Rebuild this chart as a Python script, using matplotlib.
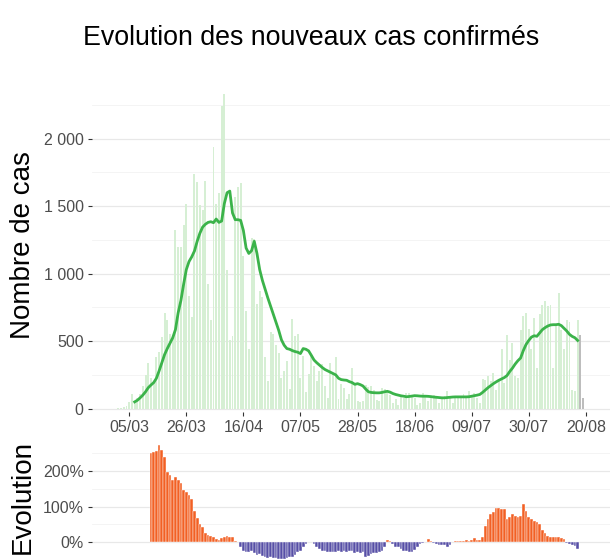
import pandas as pd
import matplotlib
matplotlib.use("Agg")
import matplotlib.pyplot as plt
import matplotlib.dates as mdates
from matplotlib.ticker import FuncFormatter, MultipleLocator

plt.rcParams["font.family"] = ["Liberation Sans", "DejaVu Sans"]

# nouveaux cas par jour, a partir du 01/03/2020
debut_cas = "2020-03-01"
cas_confirmes = [
    2, 6, 13, 23,
    50, 109, 57, 82, 105, 170, 250, 335, 230, 205,
    385, 420, 530, 705, 655, 550, 520, 1325, 1195, 1200,
    1360, 1515, 835, 680, 1735, 1680, 1510, 1475, 1690, 920,
    660, 1935, 1515, 1595, 2240, 2335, 1025, 505, 540, 1565,
    1640, 1675, 1130, 725, 440, 1265, 1255, 775, 870, 825,
    380, 205, 565, 550, 475, 415, 230, 280, 355, 145,
    665, 540, 550, 230, 390, 120, 255, 405, 315, 205,
    280, 330, 170, 80, 340, 255, 380, 70, 180, 155,
    70, 105, 300, 190, 60, 50, 55, 178, 160, 170,
    140, 67, 55, 153, 146, 116, 104, 42, 72, 25,
    92, 80, 116, 116, 92, 80, 25, 42, 116, 104,
    55, 92, 104, 92, 42, 80, 92, 128, 92, 42,
    80, 92, 92, 111, 92, 128, 92, 116, 79, 42,
    220, 210, 245, 203, 264, 141, 215, 440, 190, 548,
    363, 490, 240, 230, 585, 685, 710, 590, 440, 670,
    300, 700, 770, 795, 760, 770, 300, 620, 860, 585,
    440, 660, 645, 140, 128, 660,
]
# derniers jours, donnees incompletes
debut_provisoire = "2020-08-18"
cas_provisoires = [548, 80]

# moyenne glissante 7 jours, a partir du 07/03
debut_moyenne = "2020-03-07"
moyenne_7j = [
    50, 62, 80, 100, 125, 155, 175, 193, 225, 280,
    340, 400, 445, 485, 525, 585, 710, 800, 920, 1030,
    1090, 1125, 1168, 1240, 1300, 1345, 1366, 1380, 1385, 1378,
    1405, 1380, 1390, 1520, 1600, 1612, 1450, 1400, 1400, 1395,
    1320, 1190, 1150, 1170, 1240, 1150, 1030, 950, 885, 820,
    760, 700, 640, 580, 510, 470, 445, 440, 430, 423,
    418, 408, 445, 440, 428, 395, 360, 340, 322, 305,
    290, 280, 270, 260, 250, 225, 215, 212, 210, 200,
    193, 180, 185, 178, 168, 145, 125, 120, 118, 117,
    117, 120, 125, 128, 122, 112, 105, 100, 95, 92,
    88, 90, 93, 96, 95, 93, 92, 92, 91, 89,
    86, 84, 82, 80, 80, 82, 84, 86, 87, 87,
    87, 87, 87, 88, 92, 96, 100, 105, 120, 138,
    155, 170, 185, 198, 210, 220, 230, 245, 275, 300,
    330, 355, 375, 430, 475, 505, 530, 540, 536, 560,
    585, 600, 612, 620, 622, 622, 625, 615, 595, 575,
    550, 535, 525, 505,
]

# evolution (%) a partir du 13/03
debut_evolution = "2020-03-13"
evolution = [
    250, 252, 257, 273, 259, 240, 198, 189, 175, 182,
    175, 167, 147, 142, 133, 121, 89, 67, 51, 42,
    25, 21, 18, 14, 8, 7, 11, 16, 18, 16, 14, 3, 2,
    -14, -23, -28, -28, -23, -31, -35, -33, -37, -42,
    -44, -42, -44, -44, -47, -47, -47, -44, -42, -40,
    -35, -28, -23, -14, -5, 0, 0, -5, -14, -19,
    -23, -25, -28, -28, -26, -28, -25, -28, -23, -28, -23,
    -25, -30, -28, -31, -28, -42, -37, -33, -31, -31,
    -28, -23, -14, 7, 5, -5, -12, -14, -19, -23,
    -25, -28, -28, -22, -12, -5, -2, 0, 9, 5,
    -3, -5, -7, -7, -7, -12, -7, 0, 5, 5,
    3, 5, 7, 5, 7,
    12, 7, 7, 14, 47, 66, 78, 84, 96, 96,
    94, 94, 66, 72, 78, 75, 72, 75, 106, 89,
    72, 66, 61, 56, 51, 35, 25, 19, 16, 16,
    14, 14, 12, 9, -3, -5, -7, -10, -19,
]

tick_dates = ["2020-03-05", "2020-03-26", "2020-04-16", "2020-05-07", "2020-05-28",
              "2020-06-18", "2020-07-09", "2020-07-30", "2020-08-20"]

jours_cas = pd.date_range(debut_cas, periods=len(cas_confirmes))
jours_prov = pd.date_range(debut_provisoire, periods=len(cas_provisoires))
jours_moy = pd.date_range(debut_moyenne, periods=len(moyenne_7j))
jours_evo = pd.date_range(debut_evolution, periods=len(evolution))
couleurs_evo = ["#f26024" if v >= 0 else "#574fa6" for v in evolution]

W, H = 611, 560
fig = plt.figure(figsize=(W / 100, H / 100), dpi=100)
ax1 = fig.add_axes([92 / W, 1 - 412 / H, 518 / W, 334 / H])
ax2 = fig.add_axes([92 / W, 0, 518 / W, 119 / H])

ref = mdates.date2num(pd.Timestamp("2020-03-05"))
xlim = (ref - 13.7, ref + 176.9)

ax1.bar(jours_cas, cas_confirmes, width=0.72, color="#d6efd4", zorder=2)
ax1.bar(jours_prov, cas_provisoires, width=0.72, color="#bdbdbd", zorder=2)
ax1.plot(jours_moy, moyenne_7j, color="#3bb34a", lw=2.0, zorder=3)
ax1.set_xlim(xlim)
ax1.set_ylim(-25, 2450)
ax1.yaxis.set_major_locator(MultipleLocator(500))
ax1.yaxis.set_minor_locator(MultipleLocator(250))
ax1.yaxis.set_major_formatter(FuncFormatter(lambda v, p: f"{int(v):,}".replace(",", " ")))
ax1.set_xticks(mdates.date2num(pd.to_datetime(tick_dates)))
ax1.xaxis.set_major_formatter(mdates.DateFormatter("%d/%m"))
ax1.set_ylabel("Nombre de cas", fontsize=20, color="black")
ax1.yaxis.set_label_coords(-0.108, 0.5)

ax2.bar(jours_evo, evolution, width=1.0, color=couleurs_evo, edgecolor="white",
        linewidth=0.3, zorder=2)
ax2.set_xlim(xlim)
ax2.set_ylim(-49.6, 283.8)
ax2.set_yticks([0, 100, 200])
ax2.yaxis.set_minor_locator(MultipleLocator(50))
ax2.yaxis.set_major_formatter(FuncFormatter(lambda v, p: f"{int(v)}%"))
ax2.set_xticks([])
ax2.set_ylabel("Evolution", fontsize=20, color="black")
ax2.yaxis.set_label_coords(-0.108, 0.53)

for ax in (ax1, ax2):
    for s in ax.spines.values():
        s.set_visible(False)
    ax.grid(axis="y", which="major", color="#e8e8e8", lw=0.9, zorder=0)
    ax.grid(axis="y", which="minor", color="#f3f3f3", lw=0.6, zorder=0)
    ax.grid(axis="x", visible=False)
    ax.tick_params(axis="both", which="major", colors="#333333", length=3, width=0.8,
                   labelcolor="#4d4d4d", labelsize=11.5, pad=3)
    ax.tick_params(axis="both", which="minor", length=0)
    ax.set_axisbelow(True)

fig.text(311 / W, 1 - 38 / H, "Evolution des nouveaux cas confirmés",
         ha="center", va="center", fontsize=19.3, color="black")

fig.savefig("out.png", dpi=100)
